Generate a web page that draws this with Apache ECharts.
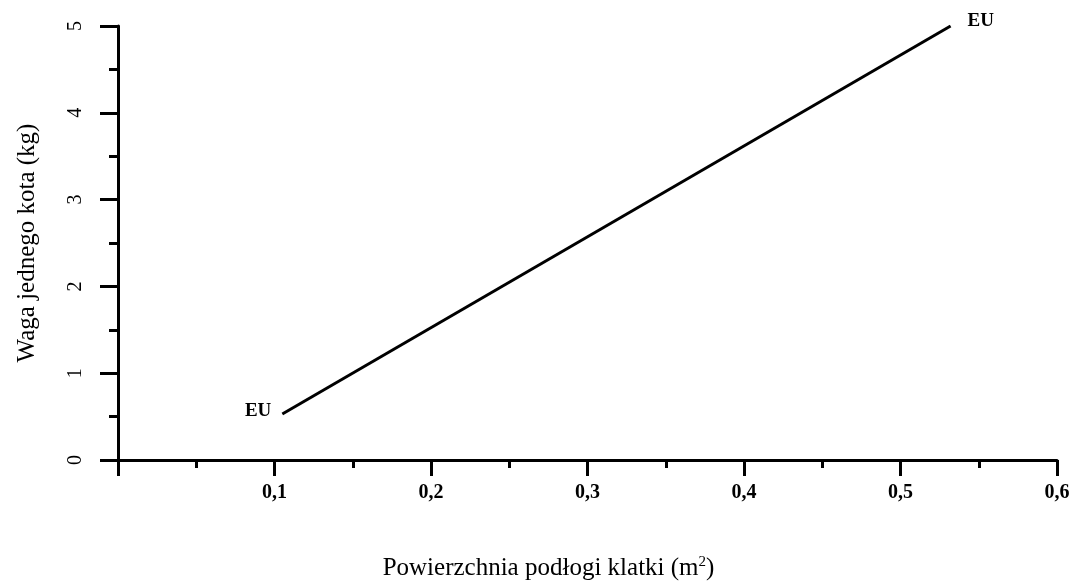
<!DOCTYPE html>
<html>
<head>
<meta charset="utf-8">
<script src="https://cdn.jsdelivr.net/npm/echarts@6/dist/echarts.min.js"></script>
<style>
  html, body { margin: 0; padding: 0; background: #fff; }
  #main { width: 1078px; height: 586px; }
</style>
</head>
<body>
<div id="main"></div>
<script>
// data
var xValues = [0.105, 0.532];
var yValues = [0.53, 5.0];
var pointLabels = ['EU', 'EU'];
var xTicks = [0, 0.1, 0.2, 0.3, 0.4, 0.5, 0.6];
var yTicks = [0, 1, 2, 3, 4, 5];

var lineData = xValues.map(function (x, i) {
  return {
    value: [x, yValues[i]],
    label: i === 0
      ? { show: true, position: 'left', distance: 11, offset: [0, -3] }
      : { show: true, position: 'right', distance: 17, offset: [0, -5] }
  };
});

var chartDom = document.getElementById('main');
var myChart = echarts.init(chartDom);
var option;
option = {
  animation: false,
  grid: {
    left: 118,
    right: 21,
    top: 26,
    bottom: 123
  },
  xAxis: {
    type: 'value',
    min: xTicks[0],
    max: xTicks[xTicks.length - 1],
    interval: 0.1,
    name: 'Powierzchnia podłogi klatki (m{sup|2})',
    nameLocation: 'middle',
    nameGap: 95,
    nameTextStyle: {
      fontFamily: 'Liberation Serif',
      fontSize: 25,
      color: '#000',
      padding: [0, 78, 0, 0],
      rich: {
        sup: { fontFamily: 'Liberation Serif', fontSize: 15, color: '#000', padding: [0, 0, 12, 0] }
      }
    },
    axisLine: { show: true, lineStyle: { color: '#000', width: 3 } },
    axisTick: { show: true, length: 16, lineStyle: { color: '#000', width: 3 } },
    minorTick: { show: true, splitNumber: 2, length: 8, lineStyle: { color: '#000', width: 3 } },
    splitLine: { show: false },
    axisLabel: {
      showMinLabel: false,
      margin: 23,
      fontFamily: 'Liberation Serif',
      fontWeight: 'bold',
      fontSize: 20,
      color: '#000',
      formatter: function (v) { return v.toFixed(1).replace('.', ','); }
    }
  },
  yAxis: {
    type: 'value',
    min: yTicks[0],
    max: yTicks[yTicks.length - 1],
    interval: 1,
    name: 'Waga jednego kota (kg)',
    nameLocation: 'middle',
    nameRotate: 90,
    nameGap: 78,
    nameTextStyle: {
      fontFamily: 'Liberation Serif',
      fontSize: 25,
      color: '#000'
    },
    axisLine: { show: true, lineStyle: { color: '#000', width: 3 } },
    axisTick: { show: true, length: 18, lineStyle: { color: '#000', width: 3 } },
    minorTick: { show: true, splitNumber: 2, length: 9, lineStyle: { color: '#000', width: 3 } },
    splitLine: { show: false },
    axisLabel: {
      rotate: 90,
      margin: 32,
      fontFamily: 'Liberation Serif',
      fontSize: 20,
      color: '#000'
    }
  },
  series: [
    {
      type: 'line',
      data: lineData,
      symbol: 'circle',
      symbolSize: 0,
      showSymbol: true,
      itemStyle: { color: '#000' },
      lineStyle: { color: '#000', width: 3 },
      label: {
        fontFamily: 'Liberation Serif',
        fontWeight: 'bold',
        fontSize: 19,
        color: '#000',
        formatter: function (p) { return pointLabels[p.dataIndex]; }
      }
    }
  ]
};
option && myChart.setOption(option);
</script>
</body>
</html>
